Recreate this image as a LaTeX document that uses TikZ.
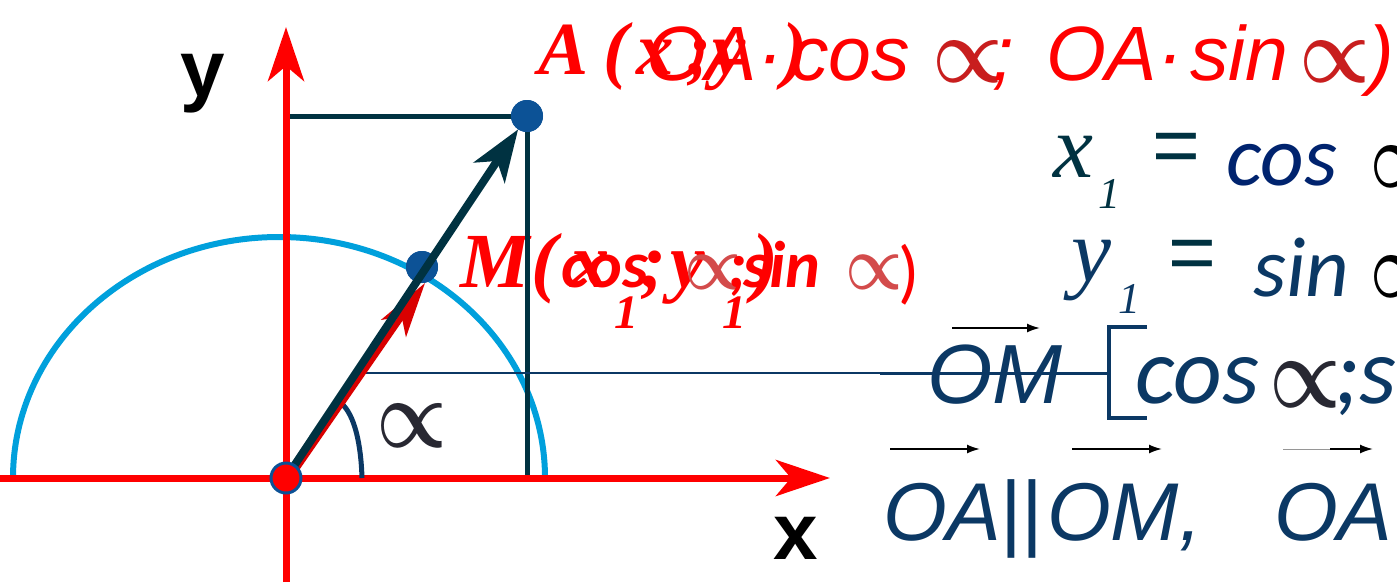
\documentclass[tikz,border=0pt]{standalone}
\usepackage{fontspec}
\usetikzlibrary{arrows.meta}
\newfontfamily\lserif{Liberation Serif}
\newfontfamily\lsans{Liberation Sans}
\newfontfamily\carl{Carlito}
\newcommand\fsz[1]{\fontsize{#1}{#1}\selectfont}
\newcommand\prp[2]{\scalebox{#1}[#2]{\boldmath$\propto$}}
\definecolor{axred}{RGB}{255,0,0}
\definecolor{arccyan}{RGB}{0,160,220}
\definecolor{dotblue}{RGB}{12,82,150}
\definecolor{dteal}{RGB}{0,50,65}
\definecolor{navy}{RGB}{11,56,100}
\definecolor{cosnavy}{RGB}{0,35,110}
\definecolor{alred}{RGB}{200,30,30}
\definecolor{algrey}{RGB}{40,40,50}
\definecolor{lgrey}{RGB}{150,150,150}
\tikzset{
  txt/.style={anchor=base west, inner sep=0pt, outer sep=0pt},
  redbi/.style={txt, text=axred, font=\lserif\bfseries\itshape\fsz{75}},
  redsi/.style={txt, text=axred, font=\lsans\itshape\fsz{77}},
  mbi/.style={txt, text=axred, font=\lserif\bfseries\itshape\fsz{78}},
  msub/.style={txt, text=axred, font=\lserif\bfseries\itshape\fsz{48}},
  mcb/.style={txt, text=axred, font=\carl\bfseries\itshape\fsz{66}},
  prop/.style={txt},
  navysi/.style={txt, text=navy, font=\lsans\itshape\fsz{82}},
  axis/.style={draw=axred, line width=7pt, -{Stealth[length=54pt,width=36pt,inset=15pt]}},
  dot/.style={circle, fill=dotblue, minimum size=32pt, inner sep=0pt, outer sep=0pt},
  guide/.style={draw=dteal, line width=5pt},
  vec/.style={draw=dteal, line width=8pt, -{Stealth[length=52pt,width=37pt,inset=14pt]}},
  redvec/.style={draw=axred!85!black, line width=6pt, -{Stealth[length=55pt,width=30pt,inset=14pt]}},
  over/.style={draw=black, line width=1.8pt, -{Latex[length=13pt,width=9pt]}},
}
\begin{document}
\begin{tikzpicture}[x=1pt,y=-1pt]
\useasboundingbox (0,0) rectangle (1397,582);
% ---------- texts (under the lines) ----------
% top row, layer 1
\node[redbi] (tA) at (538,74) {A};
\node[redbi] (tP1) at (603,74) {(};
\node[redbi] (tx) at (636,74) {x};
\node[redbi] (tsc) at (686,74) {;};
\node[redbi] (ty) at (712,74) {y};
\node[redbi] (tP2) at (782,74) {)};
% top row, layer 2
\node[redsi] (tOA1) at (646,80) {OA·};
\node[redsi] (tcos) at (790,80) {cos};
\node[prop, text=alred] (tal1) at (932,82) {\prp{7.9}{9.3}};
\node[redsi] (tsc2) at (992,80) {;};
\node[redsi] (tOA2) at (1046,80) {OA·};
\node[redsi] (tsin) at (1190,80) {sin};
\node[prop, text=alred] (tal2) at (1299,82) {\prp{7.9}{9.3}};
\node[redsi] (tP3) at (1368,80) {)};
% M row, layer 1
\node[mbi] (mM) at (460,287) {M};
\node[mbi] (mP1) at (531,287) {(};
\node[mbi] (mx) at (570,287) {x};
\node[msub] (mx1) at (614,328) {1};
\node[mbi] (msc) at (640,287) {;};
\node[mbi] (my) at (670,287) {y};
\node[msub] (my1) at (722,328) {1};
\node[mbi] (mP2) at (752,287) {)};
% M row, layer 2
\node[mcb] (mcos) at (561,287) {cos};
\node[prop, text=alred!80] (mal1) at (684,289) {\prp{6.4}{7.7}};
\node[mcb] (msc2) at (728,287) {;};
\node[mcb] (msin) at (743,287) {sin};
\node[prop, text=alred!80] (mal2) at (845,289) {\prp{6.4}{7.7}};
\node[txt, text=axred, font=\carl\fsz{70}] (mP3) at (898,295) {)};
% x1, y1 rows
\node[txt, text=dteal, font=\lserif\itshape\fsz{90}] (rx) at (1053,177) {x};
\node[txt, text=dteal, font=\lserif\itshape\fsz{44}] (rx1) at (1098,208) {1};
\node[anchor=center, inner sep=0pt, text=dteal, font=\lsans\fsz{82}] (req1) at (1176,153) {=};
\node[txt, text=cosnavy, font=\carl\itshape\fsz{85}] (rcos) at (1226,185) {cos};
\node[prop, text=black] (ral1) at (1369,187) {\prp{7.9}{9.3}};
\node[txt, text=navy, font=\lserif\itshape\fsz{90}] (ry) at (1071,281) {y};
\node[txt, text=navy, font=\lserif\itshape\fsz{44}] (ry1) at (1118,313) {1};
\node[anchor=center, inner sep=0pt, text=dteal, font=\lsans\fsz{82}] (req2) at (1192,260) {=};
\node[txt, text=navy, font=\carl\itshape\fsz{85}] (rsin) at (1253,296) {sin};
\node[prop, text=black] (ral2) at (1369,297) {\prp{7.9}{9.3}};
% OM row
\node[navysi, font=\lsans\itshape\fsz{84}] (vOM) at (927,403) {OM};
\node[txt, text=navy, font=\carl\itshape\fsz{95}] (vcos) at (1135,403) {cos};
\node[prop, text=algrey] (val) at (1269,407) {\prp{8}{10.2}};
\node[txt, text=navy, font=\carl\itshape\fsz{95}] (vs) at (1334,403) {;s};
% bottom row
\node[navysi] (bOA) at (883,540) {OA};
\node[txt, text=navy, font=\lsans\fsz{84}] (bpar) at (1000,540) {||};
\node[navysi] (bOM) at (1047,540) {OM,};
\node[navysi] (bOA2) at (1274,540) {OA};
% axis labels and angle
\node[txt, font=\lsans\bfseries\fsz{80}] (ly) at (180,96) {y};
\node[txt, font=\lsans\bfseries\fsz{80}] (lx) at (773,559) {x};
\node[prop, text=algrey] (lal) at (376,447) {\prp{7.9}{9.75}};
% ---------- geometry ----------
\coordinate (O) at (286,478);
\coordinate (xs) at (0,478);
\coordinate (xe) at (830,478);
\coordinate (ys) at (286,582);
\coordinate (ye) at (286,27);
\coordinate (yA) at (290,116);
\coordinate (xA) at (527,478);
\coordinate (L1) at (366,373);
\coordinate (L2) at (880,373);
\coordinate (L3) at (1109,373);
\node[dot] (A) at (527,116) {};
% semicircle
\draw[arccyan, line width=6pt] (13,478) arc[start angle=180, end angle=0, x radius=266pt, y radius=241pt];
% guides from A
\draw[guide] (yA) -- (A.center);
\draw[guide] (A.center) -- (xA);
% thin line to OM
\draw[navy, line width=1.2pt] (L1) -- (L2);
\draw[navy, line width=3pt] (L2) -- (L3);
% bracket
\draw[navy, line width=4pt] (1147,327) -- (1109,327) -- (1109,418) -- (1147,418);
% axes
\draw[axis] (xs) -- (xe);
\draw[axis] (ys) -- (ye);
% angle arc
\draw[navy, line width=5pt] (362,478) .. controls (361,445) and (355,415) .. (341,403);
% vectors
\node[dot] (M) at (422,267) {};
\draw[redvec] ([xshift=4pt]O) -- ([xshift=3pt]M.south);
\node[dot] (M2) at (422,267) {};
\draw[vec] (O) -- (A);
\node[dot] (A2) at (527,116) {};
\node[circle, fill=axred, draw=dotblue, line width=3pt, minimum size=30pt, inner sep=0pt] (Od) at (O) {};
% vector arrows above text
\coordinate (a1s) at (952,328); \coordinate (a1e) at (1040,328);
\coordinate (a2s) at (890,449); \coordinate (a2e) at (980,449);
\coordinate (a3s) at (1072,449); \coordinate (a3e) at (1162,449);
\coordinate (a4s) at (1283,449); \coordinate (a4m) at (1330,449); \coordinate (a4e) at (1373,449);
\draw[over] (a1s) -- (a1e);
\draw[over] (a2s) -- (a2e);
\draw[over] (a3s) -- (a3e);
\draw[lgrey, line width=1pt] (a4s) -- (a4m);
\draw[over] (a4m) -- (a4e);
\end{tikzpicture}
\end{document}
